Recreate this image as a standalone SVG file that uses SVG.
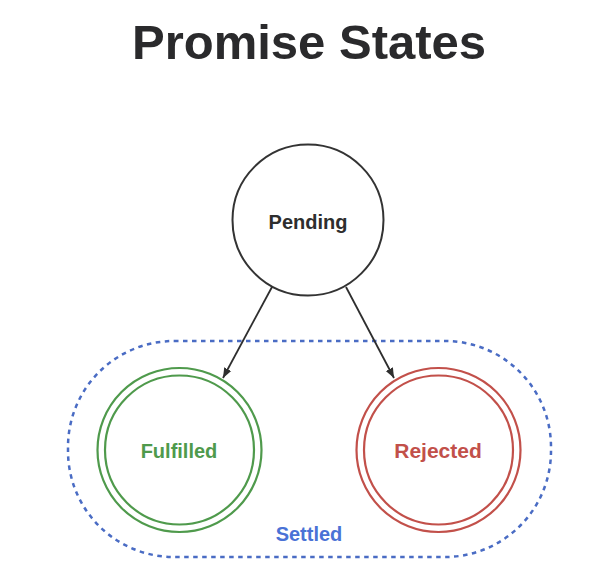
<svg xmlns="http://www.w3.org/2000/svg" width="612" height="581" viewBox="0 0 612 581">
<style>
  text { font-family: "Liberation Sans", Arial, sans-serif; font-weight: bold; text-anchor: middle; }
  .title { font-size: 49px; fill: #2a2a2c; }
  .lbl { font-size: 20px; }
  .pend { fill: none; stroke: #333; stroke-width: 2; }
  .green { fill: none; stroke: #4f9a4c; stroke-width: 2.2; }
  .red { fill: none; stroke: #c2504a; stroke-width: 2.2; }
  .edge { stroke: #2e2e2e; stroke-width: 1.8; fill: none; }
</style>
<defs>
  <marker id="arrow" viewBox="0 0 10 10" refX="10" refY="5" markerWidth="10" markerHeight="10" markerUnits="userSpaceOnUse" orient="auto">
    <path d="M0,1 L10,5 L0,9 Z" fill="#2e2e2e"/>
  </marker>
</defs>
<rect width="612" height="581" fill="#ffffff"/>
<text class="title" x="309" y="59">Promise States</text>

<g id="settled">
  <rect x="68" y="341" width="483" height="216" rx="106" ry="106" fill="none" stroke="#4a6cc4" stroke-width="2.5" stroke-dasharray="4.5 4.5"/>
  <text class="lbl" x="309" y="541" fill="#4a72d6">Settled</text>
</g>

<g id="pending">
  <circle class="pend" cx="308" cy="220" r="75.5"/>
  <text class="lbl" x="308" y="229" fill="#2e2e2e">Pending</text>
</g>

<g id="fulfilled">
  <circle class="green" cx="179.5" cy="450" r="82"/>
  <circle class="green" cx="179.5" cy="450" r="74.5"/>
  <text class="lbl" x="179" y="458" fill="#4f9a4c">Fulfilled</text>
</g>

<g id="rejected">
  <circle class="red" cx="438.5" cy="450" r="82"/>
  <circle class="red" cx="438.5" cy="450" r="74.5"/>
  <text class="lbl" x="438" y="458" font-size="21" fill="#c2504a" style="font-size:21px">Rejected</text>
</g>

<g id="connectors">
  <line class="edge" x1="272" y1="287" x2="223" y2="378" marker-end="url(#arrow)"/>
  <line class="edge" x1="346" y1="287" x2="394" y2="378" marker-end="url(#arrow)"/>
</g>
</svg>
